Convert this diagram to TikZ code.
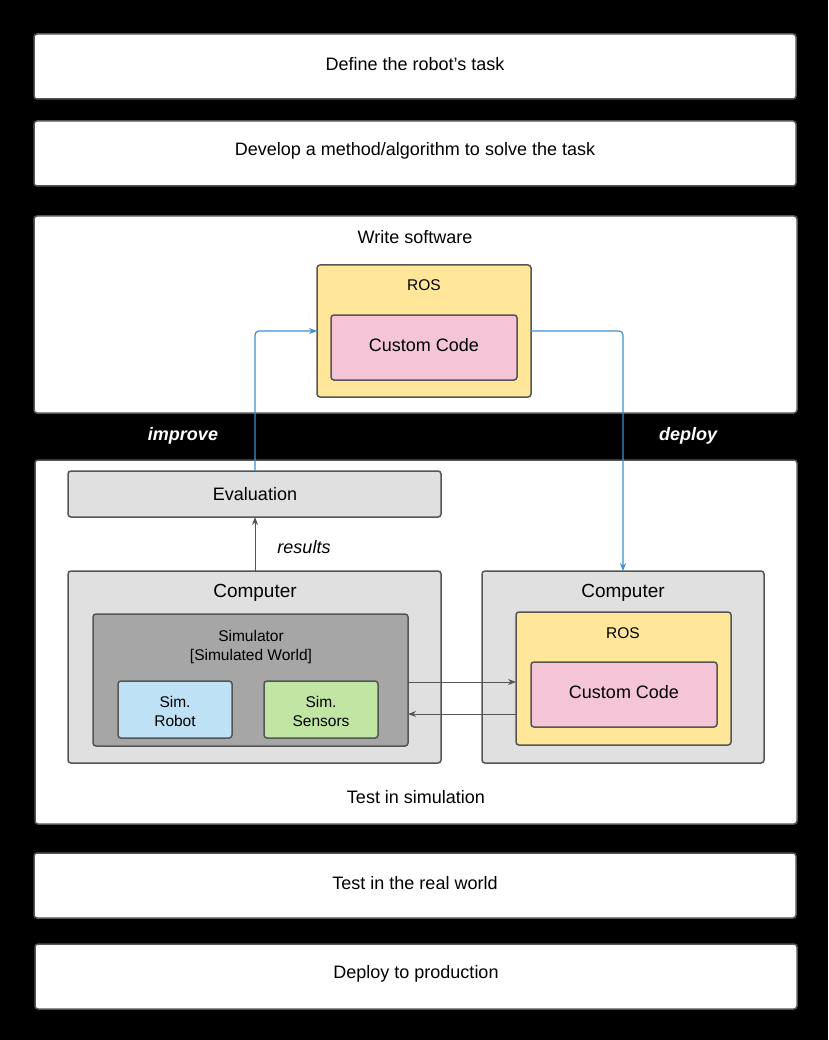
\documentclass[tikz,border=0pt]{standalone}
\usepackage{fontspec}
\setmainfont{Liberation Sans}
\usetikzlibrary{arrows.meta}
\definecolor{lgray}{HTML}{E0E0E0}
\definecolor{dgray}{HTML}{A6A6A6}
\definecolor{ros}{HTML}{FFE699}
\definecolor{pinkc}{HTML}{F4C5D7}
\definecolor{bluec}{HTML}{BEE1F6}
\definecolor{greenc}{HTML}{C1E5A2}
\definecolor{arrb}{HTML}{3D8FD6}
\definecolor{edge}{HTML}{555555}
\begin{document}
\begin{tikzpicture}[x=1pt,y=-1pt,
 box/.style={draw=edge,line width=1.5pt,rounded corners=3pt},
 t/.style={font=\fontsize{18}{21}\selectfont,inner sep=0},
 s/.style={font=\fontsize{15.5}{18}\selectfont,inner sep=0,align=center},
 da/.style={draw=edge,line width=1pt,-{Stealth[length=8pt,width=6pt]}},
 ba/.style={draw=arrb,line width=1.2pt,rounded corners=4pt,-{Stealth[length=8pt,width=6pt]}}]
\fill[black] (0,0) rectangle (828,1040);
\useasboundingbox (0,0) rectangle (828,1040);
\draw[box,fill=white] (34,34) rectangle (796,99);
\node[t] (t1) at (415,64) {Define the robot's task};
\draw[box,fill=white] (34,121) rectangle (796,186);
\node[t] (t2) at (415,151) {Develop a method/algorithm to solve the task};
\draw[box,fill=white] (34,216) rectangle (797,413);
\node[t] (t3) at (415,237) {Write software};
\draw[box,fill=ros] (317,265) rectangle (531,397);
\node[s] (ros1) at (424,285) {ROS};
\draw[box,fill=pinkc] (331,315) rectangle (517,380);
\node[t] (cc1) at (424,345) {Custom Code};
\node[t,text=white,font=\fontsize{18}{21}\selectfont\bfseries\itshape] (imp) at (183,436) {improve};
\node[t,text=white,font=\fontsize{18}{21}\selectfont\bfseries\itshape] (dep) at (688,436) {deploy};
\draw[box,fill=white] (35,460) rectangle (797,824);
\node[t] (t4) at (416,797) {Test in simulation};
\draw[box,fill=lgray] (68,471) rectangle (441,517);
\node[t] (ev) at (255,494) {Evaluation};
\node[t,font=\fontsize{18}{21}\selectfont\itshape] (res) at (304,547) {results};
\draw[box,fill=lgray] (68,571) rectangle (441,763);
\node[t,font=\fontsize{19}{22}\selectfont] (c1) at (255,593) {Computer};
\draw[box,fill=dgray] (93,614) rectangle (408,746);
\node[s] (sim) at (251,647) {Simulator\\[1pt][Simulated World]};
\draw[box,fill=bluec] (118,681) rectangle (232,738);
\node[s] (sr) at (175,711) {Sim.\\[1pt]Robot};
\draw[box,fill=greenc] (264,681) rectangle (378,738);
\node[s] (ss) at (321,711) {Sim.\\[1pt]Sensors};
\draw[box,fill=lgray] (482,571) rectangle (764,763);
\node[t,font=\fontsize{19}{22}\selectfont] (c2) at (623,593) {Computer};
\draw[box,fill=ros] (516,612) rectangle (731,745);
\node[s] (ros2) at (623,633) {ROS};
\draw[box,fill=pinkc] (531,662) rectangle (717,727);
\node[t] (cc2) at (624,692) {Custom Code};
\node[t] (t5) at (415,883) {Test in the real world};
\draw[box,fill=white] (34,853) rectangle (796,918);
\node[t] at (415,883) {Test in the real world};
\draw[box,fill=white] (35,944) rectangle (797,1009);
\node[t] (t6) at (416,974) {Deploy to production};
\coordinate (a1) at (408,682); \coordinate (a2) at (516,682);
\coordinate (b1) at (516,714); \coordinate (b2) at (408,714);
\draw[da] (a1) -- (a2);
\draw[da] (b1) -- (b2);
\coordinate (r1) at (255,571); \coordinate (r2) at (255,517);
\draw[da] (r1) -- (r2);
\coordinate (e1) at (255,471); \coordinate (e2) at (317,331);
\draw[ba] (e1) |- (e2);
\coordinate (d1) at (531,331); \coordinate (d2) at (623,571);
\draw[ba] (d1) -| (d2);
\end{tikzpicture}
\end{document}
